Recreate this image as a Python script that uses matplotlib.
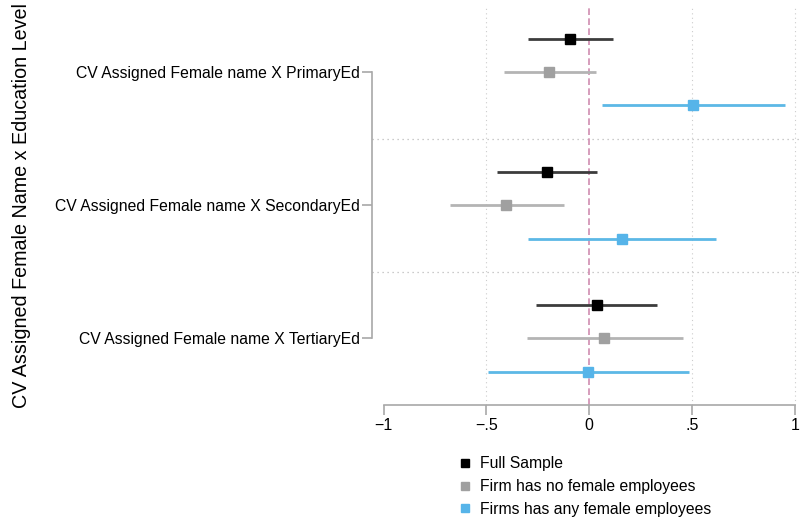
import numpy as np
import matplotlib.pyplot as plt
from matplotlib.lines import Line2D

plt.rcParams['font.family'] = ['Liberation Sans', 'DejaVu Sans']

# coefficient estimates and 95% CI, order: Primary, Secondary, Tertiary
terms = ['CV Assigned Female name X PrimaryEd',
         'CV Assigned Female name X SecondaryEd',
         'CV Assigned Female name X TertiaryEd']
full_est = [-0.091, -0.203, 0.036]
full_lo = [-0.299, -0.446, -0.258]
full_hi = [0.117, 0.039, 0.332]
nofem_est = [-0.193, -0.402, 0.074]
nofem_lo = [-0.416, -0.678, -0.302]
nofem_hi = [0.034, -0.124, 0.455]
anyfem_est = [0.506, 0.162, -0.005]
anyfem_lo = [0.061, -0.299, -0.493]
anyfem_hi = [0.954, 0.618, 0.488]
series_names = ['Full Sample', 'Firm has no female employees', 'Firms has any female employees']

series = [
    (full_est, full_lo, full_hi, '#3c3c3c', '#000000', -1),
    (nofem_est, nofem_lo, nofem_hi, '#b4b4b4', '#a0a0a0', 0),
    (anyfem_est, anyfem_lo, anyfem_hi, '#5cb8e6', '#56b4e9', 1),
]

fig = plt.figure(figsize=(8.03, 5.19), dpi=100)
ax = fig.add_axes([0.463, 0.22, 0.537, 0.769])

centers = np.arange(len(terms)) * 4

# gridlines
for gx in [-0.5, 0.5, 1.0]:
    ax.axvline(gx, color='#cccccc', lw=0.8, ls=(0, (1, 3)), zorder=0)
for sep in [2, 6]:
    ax.axhline(sep, color='#bbbbbb', lw=0.9, ls=(0, (1, 3)), zorder=0)
ax.axvline(0, color='#d08cb0', lw=1.2, ls=(0, (4, 2)), zorder=1)

for est, lo, hi, lc, mc, off in series:
    y = centers + off
    ax.hlines(y, lo, hi, color=lc, lw=2, zorder=2)
    ax.plot(est, y, 's', color=mc, ms=6.5, zorder=3, lw=0)

ax.set_xlim(-1.057, 1.04)
ax.set_ylim(10, -2)

ax.set_xticks([-1, -0.5, 0, 0.5, 1])
ax.set_xticklabels(['\u22121', '\u2212.5', '0', '.5', '1'], fontsize=11.5)
ax.set_yticks(centers)
ax.set_yticklabels(terms, fontsize=11.3)

for side in ['top', 'right']:
    ax.spines[side].set_visible(False)
ax.spines['bottom'].set_bounds(-1, 1)
ax.spines['left'].set_bounds(0, 8)
for side in ['bottom', 'left']:
    ax.spines[side].set_color('#a8a8a8')
    ax.spines[side].set_linewidth(1.2)
ax.tick_params(axis='both', colors='#a8a8a8', labelcolor='black', length=7, width=1.2)
ax.tick_params(axis='y', pad=1.5)
ax.tick_params(axis='x', pad=2.5)

fig.text(0.027, 0.605, 'CV Assigned Female Name x Education Level', rotation=90,
         ha='center', va='center', fontsize=14.2)

handles = [Line2D([], [], marker='s', ls='none', color=s[4], ms=6) for s in series]
fig.legend(handles, series_names, loc='upper left', bbox_to_anchor=(0.56, 0.133),
           frameon=False, fontsize=11.3, handletextpad=0.35, labelspacing=0.5,
           handlelength=1.2, borderaxespad=0)

fig.savefig('out.png', dpi=100)
